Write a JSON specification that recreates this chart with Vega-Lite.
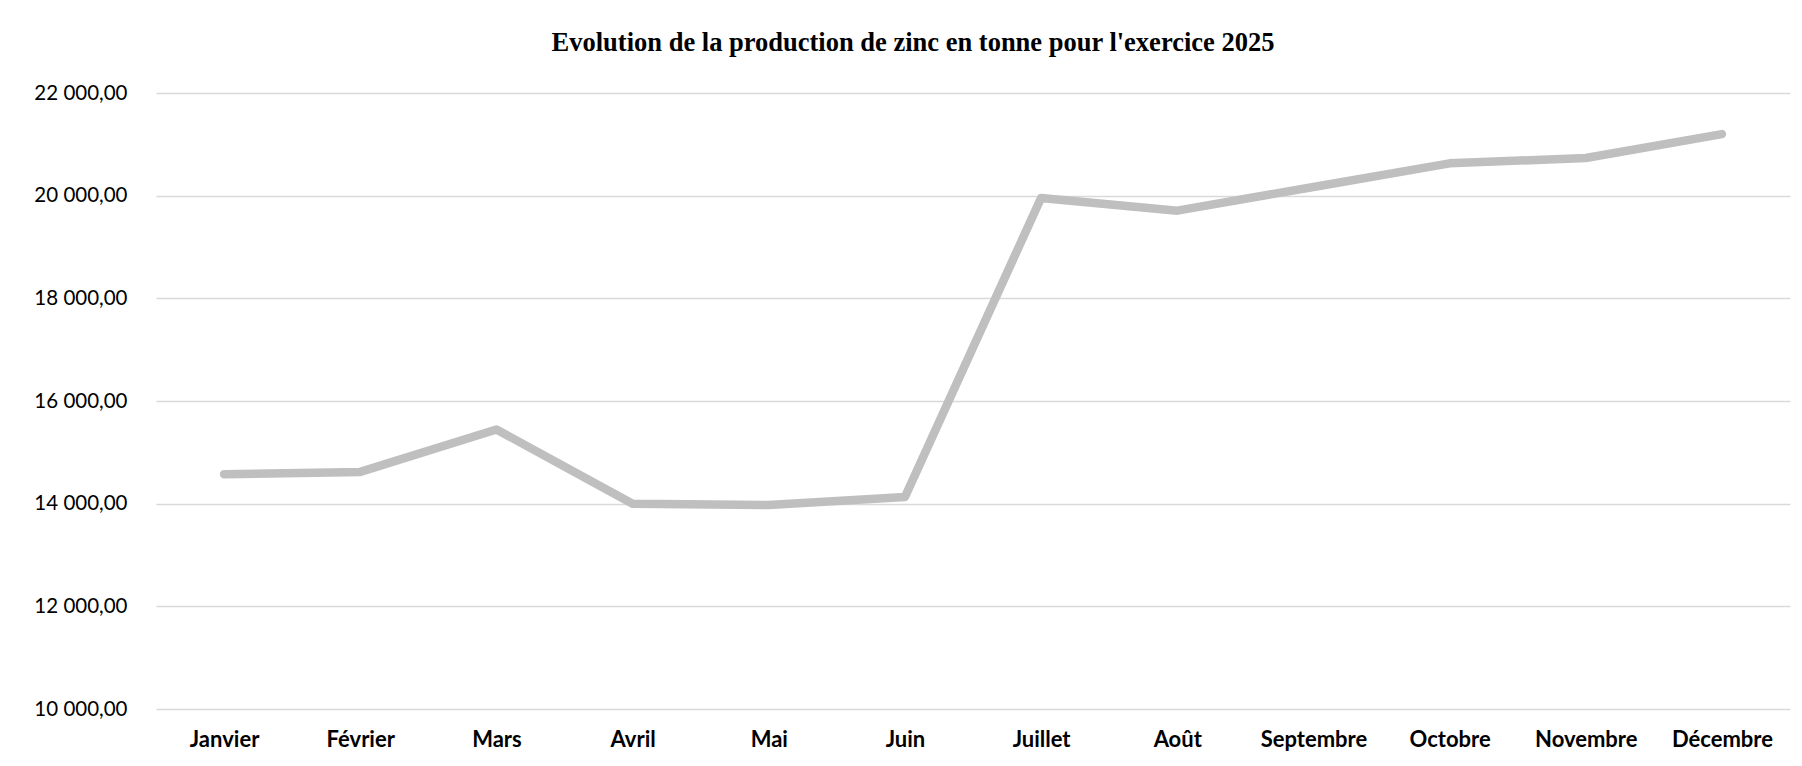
{
  "$schema": "https://vega.github.io/schema/vega-lite/v6.json",
  "width": 1634,
  "height": 616,
  "autosize": {"type": "none"},
  "padding": {"left": 156, "top": 93, "right": 12, "bottom": 57},
  "background": "white",
  "config": {
    "locale": {"number": {"decimal": ",", "thousands": " ", "grouping": [3], "currency": ["", " €"]}},
    "view": {"stroke": null}
  },
  "title": {
    "text": "Evolution de la production de zinc en tonne pour l'exercice 2025",
    "font": "Liberation Serif",
    "fontSize": 26.5,
    "fontWeight": "bold",
    "color": "#000000",
    "anchor": "middle",
    "frame": "group",
    "dx": -60,
    "offset": 27
  },
  "data": {
    "values": [
      {"mois": "Janvier", "production": 14573},
      {"mois": "Février", "production": 14619},
      {"mois": "Mars", "production": 15446},
      {"mois": "Avril", "production": 14000},
      {"mois": "Mai", "production": 13974},
      {"mois": "Juin", "production": 14130},
      {"mois": "Juillet", "production": 19955},
      {"mois": "Août", "production": 19708},
      {"mois": "Septembre", "production": 20170},
      {"mois": "Octobre", "production": 20630},
      {"mois": "Novembre", "production": 20734},
      {"mois": "Décembre", "production": 21200}
    ]
  },
  "mark": {"type": "line", "color": "#BFBFBF", "strokeWidth": 8.5, "strokeCap": "round", "strokeJoin": "round"},
  "encoding": {
    "x": {
      "field": "mois",
      "type": "ordinal",
      "sort": null,
      "scale": {"paddingInner": 0, "paddingOuter": 0},
      "axis": {
        "title": null,
        "labelAngle": 0,
        "ticks": false,
        "domain": false,
        "grid": false,
        "labelFont": "Lato",
        "labelFontWeight": "bold",
        "labelFontSize": 22,
        "labelColor": "#000000",
        "labelPadding": 20
      }
    },
    "y": {
      "field": "production",
      "type": "quantitative",
      "scale": {"domain": [10000, 22000], "nice": false, "zero": false},
      "axis": {
        "title": null,
        "values": [10000, 12000, 14000, 16000, 18000, 20000, 22000],
        "format": ",.2f",
        "ticks": false,
        "domain": false,
        "grid": true,
        "gridColor": "#D9D9D9",
        "gridWidth": 1.5,
        "labelFont": "Lato",
        "labelFontSize": 20.5,
        "labelColor": "#000000",
        "labelPadding": 29
      }
    }
  }
}
